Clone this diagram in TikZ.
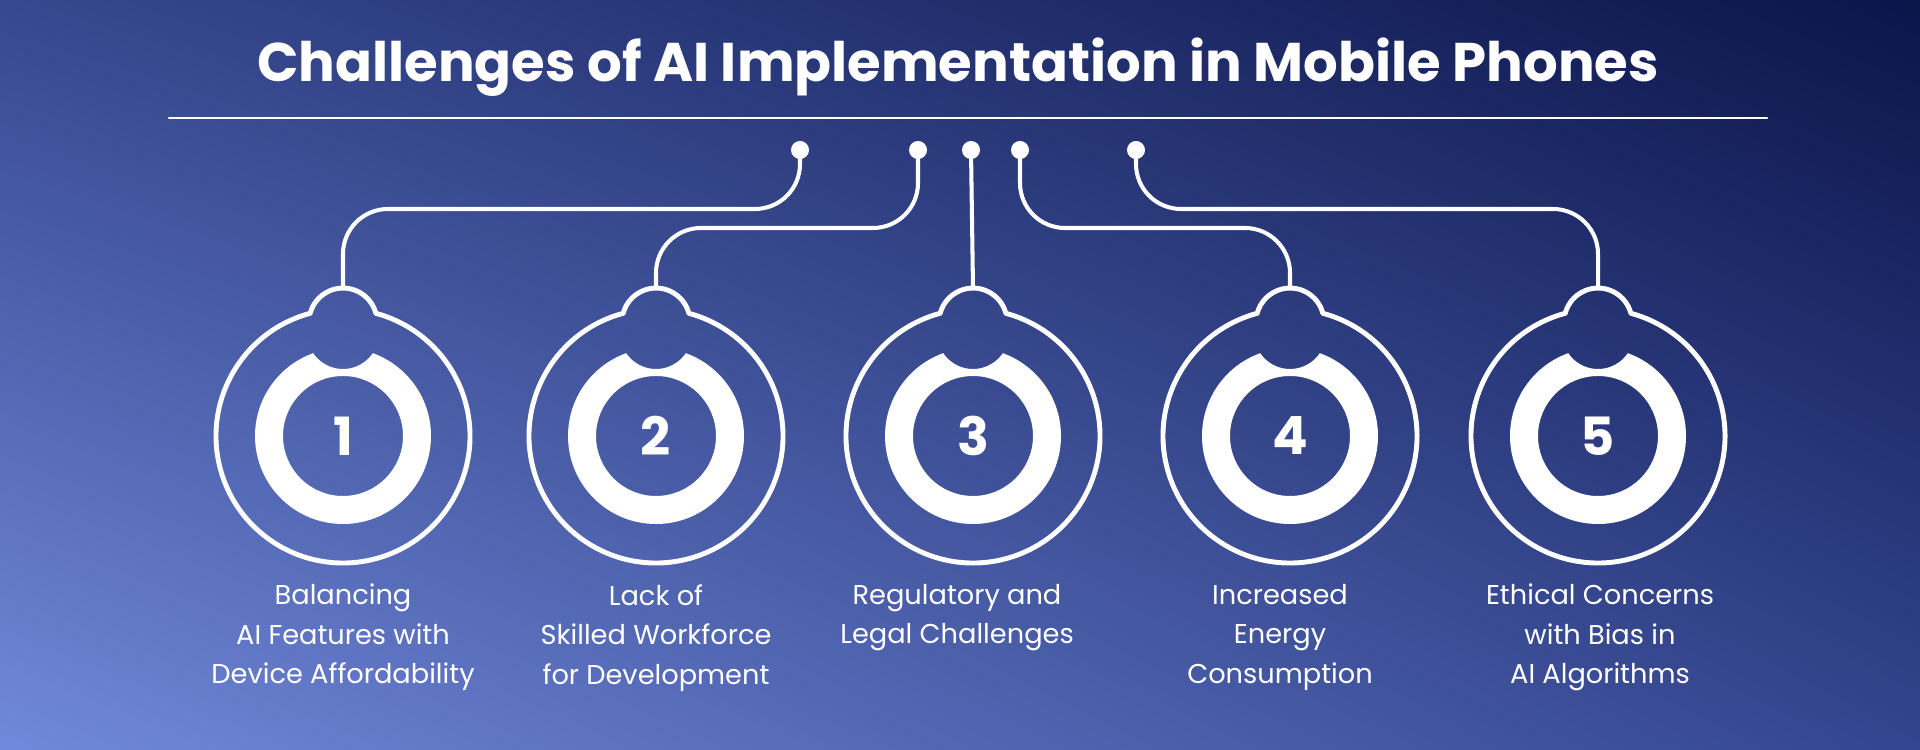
\documentclass[tikz,border=0pt]{standalone}
\usepackage{fontspec}
\setmainfont{Poppins}
\usetikzlibrary{calc,shadings}
\definecolor{bgA}{HTML}{7189DA}
\definecolor{bgB}{HTML}{0C154A}
\definecolor{bgC}{HTML}{36488F}
\definecolor{bgD}{HTML}{33458E}
\tikzset{
  wire/.style={white,line width=2.3pt,rounded corners=0.9cm},
  outline/.style={white,line width=2.8pt},
  label/.style={white,align=center,anchor=north,font=\fontsize{15.5}{22.5}\selectfont},
  num/.style={white,font=\fontsize{30}{30}\selectfont\bfseries}
}
\newcommand{\badge}[3]{% x, number, name
\begin{scope}[shift={(#1,314)}]
\draw[outline] (105:127) arc[start angle=105,end angle=435,radius=127]
  arc[start angle=14.9,end angle=165.1,radius=34];
\coordinate (#3) at (0,148);
\begin{scope}
\clip (0,0) circle (88);
\fill[white,even odd rule] (0,0) circle (90) (0,0) circle (60) (0,103) circle (36);
\end{scope}
\node[num] at (0,0) {#2};
\end{scope}}
\begin{document}
\begin{tikzpicture}[line cap=round,line join=round,x=0.02cm,y=0.02cm]
\useasboundingbox (0,0) rectangle (1920,750);
\shade[lower left=bgA,upper right=bgB,upper left=bgC,lower right=bgD] (0,0) rectangle (1920,750);
% title
\node[white,font=\fontsize{31}{31}\selectfont\bfseries] (title) at (958,683) {Challenges of AI Implementation in Mobile Phones};
\draw[white,line width=1.2pt] (169,632) -- (1767,632);
% badges
\badge{343}{1}{b1}
\badge{656}{2}{b2}
\badge{973}{3}{b3}
\badge{1290}{4}{b4}
\badge{1598}{5}{b5}
% dots
\foreach \x/\n in {800/d1,918/d2,971/d3,1020/d4,1136/d5}{
  \fill[white] (\x,600) circle (9);
  \coordinate (\n) at (\x,600);
}
\coordinate (h1) at (0,541);
\coordinate (h2) at (0,522);
\draw[wire] (b1) -- (b1 |- h1) -- (d1 |- h1) -- (d1);
\draw[wire] (b2) -- (b2 |- h2) -- (d2 |- h2) -- (d2);
\draw[wire] (b3) -- (d3);
\draw[wire] (b4) -- (b4 |- h2) -- (d4 |- h2) -- (d4);
\draw[wire] (b5) -- (b5 |- h1) -- (d5 |- h1) -- (d5);
% labels
\node[label] at (343,172) {Balancing\\AI Features with\\Device Affordability};
\node[label] at (656,172) {Lack of\\Skilled Workforce\\for Development};
\node[label] at (957,172) {Regulatory and\\Legal Challenges};
\node[label] at (1280,172) {Increased\\Energy\\Consumption};
\node[label] at (1600,172) {Ethical Concerns\\with Bias in\\AI Algorithms};
\end{tikzpicture}
\end{document}
